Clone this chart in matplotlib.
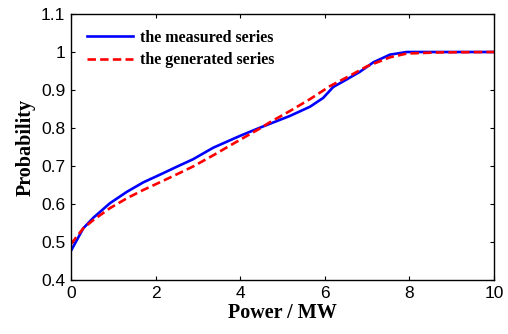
import matplotlib.pyplot as plt

# measured series (blue, solid)
p_meas = [0, 0.29, 0.53, 0.92, 1.32, 1.71, 2.10, 2.50, 2.89, 3.36, 3.99, 4.47, 4.70,
          5.18, 5.65, 5.96, 6.20, 6.52, 6.83, 7.15, 7.54, 7.94, 8.33, 10]
f_meas = [0.477, 0.536, 0.564, 0.602, 0.632, 0.657, 0.677, 0.698, 0.718, 0.748, 0.779,
          0.801, 0.811, 0.832, 0.856, 0.879, 0.908, 0.928, 0.948, 0.973, 0.993, 1.0,
          1.0, 1.0]

# generated series (red, dashed)
p_gen = [0, 0.29, 0.53, 0.92, 1.32, 1.71, 2.10, 2.50, 2.89, 3.36, 3.84, 4.47, 4.70,
         5.18, 5.65, 6.12, 6.60, 6.99, 7.54, 7.94, 8.72, 10]
f_gen = [0.495, 0.536, 0.558, 0.589, 0.615, 0.637, 0.657, 0.678, 0.699, 0.728, 0.759,
         0.799, 0.815, 0.845, 0.876, 0.910, 0.938, 0.962, 0.986, 0.996, 0.999, 1.0]

xticks = [0, 2, 4, 6, 8, 10]
yticks = [0.4, 0.5, 0.6, 0.7, 0.8, 0.9, 1.0, 1.1]
ytick_labels = ['0.4', '0.5', '0.6', '0.7', '0.8', '0.9', '1', '1.1']

fig = plt.figure(figsize=(5.08, 3.34), dpi=100)
ax = fig.add_axes([71 / 508, 1 - 280 / 334, 423 / 508, 266 / 334])

ax.plot(p_meas, f_meas, '-', color='#0000ff', linewidth=1.9, label='the measured series')
ax.plot(p_gen, f_gen, '--', color='#ff0000', linewidth=1.9, dashes=(3.2, 1.6),
        label='the generated series')

ax.set_xlim(0, 10)
ax.set_ylim(0.4, 1.1)
ax.set_xticks(xticks)
ax.set_yticks(yticks)
ax.set_yticklabels(ytick_labels)

for lab in ax.get_xticklabels() + ax.get_yticklabels():
    lab.set_family('Liberation Sans')
    lab.set_fontsize(12.5)

ax.tick_params(direction='in', length=3, width=0.8, top=True, right=True, pad=4)
for spine in ax.spines.values():
    spine.set_linewidth(1.0)

ax.set_xlabel('Power / MW', family='Liberation Serif', fontweight='bold', fontsize=14.5, labelpad=2)
ax.set_ylabel('Probability', family='Liberation Serif', fontweight='bold', fontsize=14.5, labelpad=4)

ax.legend(loc='upper left', frameon=False, handlelength=2.9, handletextpad=0.4,
          labelspacing=0.4, borderaxespad=0.6,
          prop={'family': 'Liberation Serif', 'weight': 'bold', 'size': 11.5})

fig.savefig('out.png', dpi=100)
